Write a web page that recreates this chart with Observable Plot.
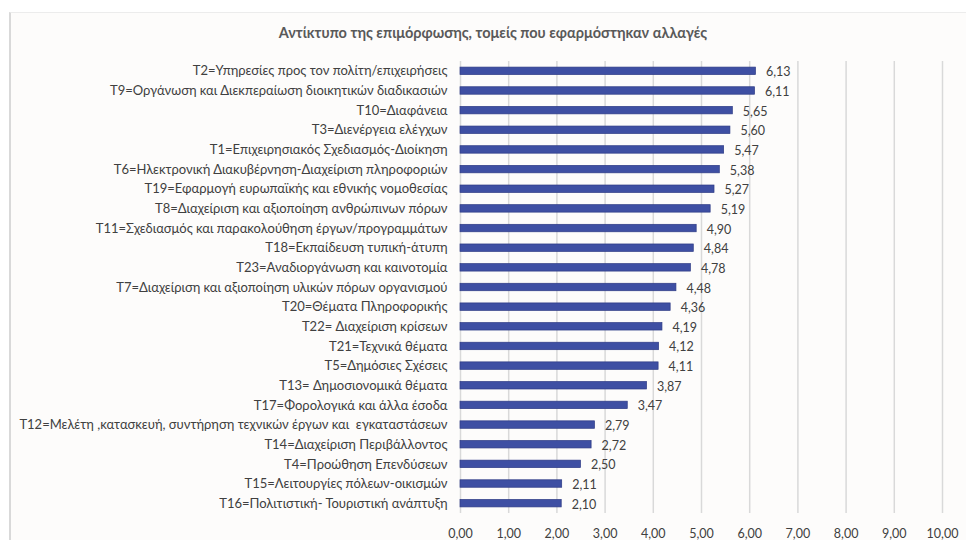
<!DOCTYPE html>
<html>
<head>
<meta charset="utf-8">
<script src="https://cdn.jsdelivr.net/npm/d3@7"></script>
<script src="https://cdn.jsdelivr.net/npm/@observablehq/plot@0.6"></script>
<style>
  body { margin: 0; background: #ffffff; width: 966px; height: 540px; overflow: hidden; position: relative; }
  #frame { position: absolute; left: 9px; top: 12px; width: 957px; height: 528px; background: #fdfcfb; border-left: 2px solid #d9d9d9; border-top: 1px solid #ececec; box-sizing: border-box; }
  #title { position: absolute; left: 0; top: 24px; width: 986px; text-align: center; font-family: Lato, sans-serif; font-weight: bold; font-size: 14.5px; color: #595959; }
  #chart { position: absolute; left: 0; top: 55px; }
</style>
</head>
<body>
<div id="frame"></div>
<div id="title">Αντίκτυπο της επιμόρφωσης, τομείς που εφαρμόστηκαν αλλαγές</div>
<div id="chart"></div>
<script>
const categories = [
  "T2=Υπηρεσίες προς τον πολίτη/επιχειρήσεις",
  "T9=Οργάνωση και Διεκπεραίωση διοικητικών διαδικασιών",
  "T10=Διαφάνεια",
  "T3=Διενέργεια ελέγχων",
  "T1=Επιχειρησιακός Σχεδιασμός-Διοίκηση",
  "T6=Ηλεκτρονική Διακυβέρνηση-Διαχείριση πληροφοριών",
  "T19=Εφαρμογή ευρωπαϊκής και εθνικής νομοθεσίας",
  "T8=Διαχείριση και αξιοποίηση ανθρώπινων πόρων",
  "T11=Σχεδιασμός και παρακολούθηση έργων/προγραμμάτων",
  "T18=Εκπαίδευση τυπική-άτυπη",
  "T23=Αναδιοργάνωση και καινοτομία",
  "T7=Διαχείριση και αξιοποίηση υλικών πόρων οργανισμού",
  "T20=Θέματα Πληροφορικής",
  "T22= Διαχείριση κρίσεων",
  "T21=Τεχνικά θέματα",
  "T5=Δημόσιες Σχέσεις",
  "T13= Δημοσιονομικά θέματα",
  "T17=Φορολογικά και άλλα έσοδα",
  "T12=Μελέτη ,κατασκευή, συντήρηση τεχνικών έργων και  εγκαταστάσεων",
  "T14=Διαχείριση Περιβάλλοντος",
  "T4=Προώθηση Επενδύσεων",
  "T15=Λειτουργίες πόλεων-οικισμών",
  "T16=Πολιτιστική- Τουριστική ανάπτυξη"
];
const values = [6.13, 6.11, 5.65, 5.60, 5.47, 5.38, 5.27, 5.19, 4.90, 4.84, 4.78, 4.48, 4.36, 4.19, 4.12, 4.11, 3.87, 3.47, 2.79, 2.72, 2.50, 2.11, 2.10];
const xTicks = [0, 1, 2, 3, 4, 5, 6, 7, 8, 9, 10];

const data = categories.map((c, i) => ({category: c, value: values[i]}));
const fmt = v => d3.format(".2f")(v).replace(".", ",");

const chart = Plot.plot({
  width: 966,
  height: 485,
  marginLeft: 460,
  marginRight: 24,
  marginTop: 6,
  marginBottom: 27,
  style: { background: "transparent", fontFamily: "Lato, sans-serif", color: "#404040" },
  x: { domain: [0, 10] },
  y: { domain: categories, paddingInner: 0.62, paddingOuter: 0.31, align: 0.5, round: false },
  marks: [
    Plot.ruleX(xTicks, { x: d => d, stroke: "#d9d9d9", strokeWidth: 1.5 }),
    Plot.barX(data, { y: "category", x: "value", fill: "#3e4fa3", stroke: "#2e3b85", strokeWidth: 0.7 }),
    Plot.text(data, { y: "category", x: "value", text: d => fmt(d.value), dx: 10, dy: 1, textAnchor: "start", fontSize: 12.5, fill: "#404040" }),
    Plot.axisY({ tickSize: 0, tickPadding: 13, fontSize: 13, label: null, fill: "#404040" }),
    Plot.axisX({ ticks: xTicks, tickFormat: fmt, tickSize: 0, tickPadding: 16, fontSize: 12.5, label: null, fill: "#404040" })
  ]
});
document.getElementById("chart").appendChild(chart);
</script>
</body>
</html>
